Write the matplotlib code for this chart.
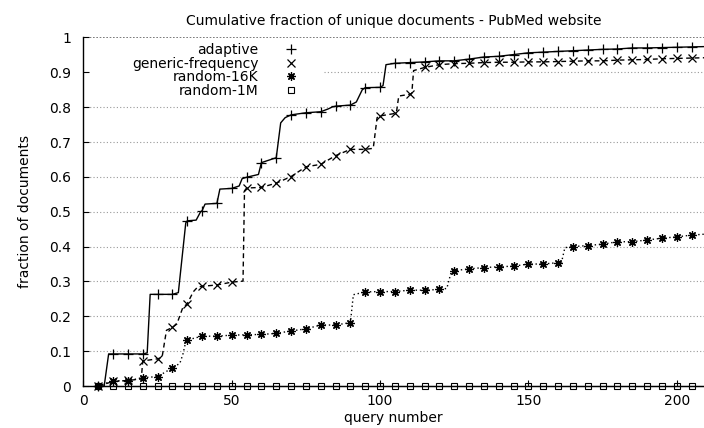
import matplotlib.pyplot as plt
from matplotlib.lines import Line2D

plt.rcParams['font.family'] = ['DejaVu Sans']
plt.rcParams['font.size'] = 10

# values: query number -> cumulative fraction
# (points every 5 queries, plus a few extra where the curve jumps)
adaptive_q = [5, 7, 8.5, 10, 15, 20, 21.5, 22.5, 25, 30, 32, 34.5, 35, 38,
              39.5, 40, 41, 45, 46, 50, 52.5, 53.5, 55, 59, 60, 65, 66.5, 68,
              70, 75, 80, 82.5, 84, 85, 90, 92, 94, 95, 100, 101, 102, 105,
              110, 115, 120, 125, 130, 135, 140, 145, 150, 155, 160, 165, 170,
              175, 180, 185, 190, 195, 200, 205, 210]
adaptive_f = [0, 0, 0.092, 0.092, 0.092, 0.092, 0.095, 0.263, 0.263, 0.263,
              0.268, 0.468, 0.474, 0.476, 0.500, 0.503, 0.522, 0.524, 0.565,
              0.567, 0.574, 0.595, 0.599, 0.607, 0.641, 0.655, 0.755, 0.770,
              0.778, 0.784, 0.787, 0.795, 0.801, 0.803, 0.806, 0.815, 0.850,
              0.856, 0.857, 0.862, 0.922, 0.926, 0.928, 0.930, 0.933, 0.933,
              0.938, 0.944, 0.946, 0.951, 0.956, 0.958, 0.960, 0.962, 0.964,
              0.966, 0.967, 0.970, 0.970, 0.971, 0.972, 0.973, 0.974]

generic_q = [5, 10, 15, 19.5, 20, 25, 26.5, 28, 30, 31.5, 33.5, 35, 37, 38.5,
             40, 45, 50, 53.8, 54.3, 55, 60, 65, 70, 75, 80, 85, 90, 95, 97.7,
             99, 100, 105, 105.6, 106.3, 110, 110.7, 111.3, 115, 120, 125, 130,
             135, 140, 145, 150, 155, 160, 165, 170, 175, 180, 185, 190, 195,
             200, 205, 210]
generic_f = [0, 0.013, 0.016, 0.02, 0.072, 0.078, 0.082, 0.160, 0.168, 0.178,
             0.225, 0.236, 0.270, 0.284, 0.286, 0.290, 0.298, 0.301, 0.560,
             0.568, 0.570, 0.582, 0.601, 0.629, 0.636, 0.661, 0.679, 0.679,
             0.682, 0.770, 0.775, 0.782, 0.790, 0.832, 0.837, 0.840, 0.905,
             0.914, 0.922, 0.925, 0.926, 0.928, 0.929, 0.929, 0.930, 0.930,
             0.931, 0.932, 0.933, 0.933, 0.935, 0.936, 0.937, 0.939, 0.940,
             0.941, 0.942]

r16k_q = [5, 10, 15, 20, 25, 30, 32.5, 33.5, 34.5, 35, 40, 45, 50, 55, 60,
          65, 70, 75, 80, 85, 90, 91, 95, 100, 105, 110, 115, 120, 122.5, 124,
          125, 130, 135, 140, 145, 150, 155, 160, 161.2, 162.3, 165, 170, 175,
          180, 185, 190, 195, 200, 205, 210]
r16k_f = [0, 0.015, 0.015, 0.024, 0.027, 0.052, 0.065, 0.090, 0.127, 0.132,
          0.143, 0.143, 0.146, 0.147, 0.148, 0.151, 0.158, 0.164, 0.175, 0.175,
          0.182, 0.262, 0.270, 0.271, 0.271, 0.275, 0.275, 0.277, 0.280, 0.328,
          0.331, 0.336, 0.340, 0.342, 0.344, 0.350, 0.350, 0.354, 0.356, 0.397,
          0.400, 0.403, 0.407, 0.414, 0.414, 0.419, 0.424, 0.428, 0.433, 0.436]

r1m_q = [5, 10, 15, 20, 25, 30, 35, 40, 45, 50, 55, 60, 65, 70, 75, 80, 85,
         90, 95, 100, 105, 110, 115, 120, 125, 130, 135, 140, 145, 150, 155,
         160, 165, 170, 175, 180, 185, 190, 195, 200, 205, 210]
r1m_f = [0, 0, 0, 0, 0, 0, 0, 0, 0, 0, 0, 0, 0, 0, 0, 0, 0, 0, 0, 0, 0, 0,
         0, 0, 0, 0, 0, 0, 0, 0, 0, 0, 0, 0, 0, 0, 0, 0, 0, 0, 0, 0]

labels = ['adaptive', 'generic-frequency', 'random-16K', 'random-1M']
yticks = [0, 0.1, 0.2, 0.3, 0.4, 0.5, 0.6, 0.7, 0.8, 0.9, 1]
ytick_labels = ['0', '0.1', '0.2', '0.3', '0.4', '0.5', '0.6', '0.7', '0.8', '0.9', '1']
xticks = [0, 50, 100, 150, 200]


def every5(q):
    # points only drawn on every 5th query
    return [i for i, v in enumerate(q) if v % 5 == 0 and v <= 205]


fig = plt.figure(figsize=(7.04, 4.28), dpi=100)
ax = fig.add_axes([0.1185, 0.0981, 0.8815, 0.8143])

# grid (the 0.9 line is cut by the key)
for y in yticks[1:-1]:
    xmin = 0.3877 if y == 0.9 else 0
    ax.axhline(y, xmin=xmin, color='#999999', lw=0.8, ls=(0, (1, 2)), zorder=0.5)
ax.axhline(1.0, color='#666666', lw=1.2, ls=(0, (1, 1)), zorder=0.5)

ax.plot(r1m_q, r1m_f, color='k', lw=0.8, marker='s', ms=4, mfc='none', mew=0.8,
        markevery=every5(r1m_q), clip_on=False)
ax.plot(r16k_q, r16k_f, color='k', lw=1.0, ls=(0, (1, 2)), marker=(8, 2, 0), ms=6,
        mew=0.9, markevery=every5(r16k_q), clip_on=False)
ax.plot(generic_q, generic_f, color='k', lw=1.0, ls=(0, (3.5, 2.5)), marker='x', ms=5.5,
        mew=0.9, markevery=every5(generic_q), clip_on=False)
ax.plot(adaptive_q, adaptive_f, color='k', lw=1.0, marker='+', ms=7, mew=0.9,
        markevery=every5(adaptive_q), clip_on=False)

ax.set_xlim(0, 209.2)
ax.set_ylim(0, 1)
ax.set_xticks(xticks)
ax.set_yticks(yticks)
ax.set_yticklabels(ytick_labels)
ax.tick_params(direction='in', length=4, width=0.8)
ax.tick_params(axis='y', pad=9)
ax.tick_params(axis='x', pad=6)
for s in ['top', 'right']:
    ax.spines[s].set_visible(False)
for s in ['left', 'bottom']:
    ax.spines[s].set_linewidth(1.0)

ax.set_xlabel('query number', labelpad=2)
ax.set_ylabel('fraction of documents', labelpad=12)
ax.set_title('Cumulative fraction of unique documents - PubMed website',
             fontsize=10, pad=9)

handles = [
    Line2D([], [], ls='none', color='k', marker='+', ms=7, mew=0.9),
    Line2D([], [], ls='none', color='k', marker='x', ms=5.5, mew=0.9),
    Line2D([], [], ls='none', color='k', marker=(8, 2, 0), ms=6, mew=0.9),
    Line2D([], [], ls='none', color='k', marker='s', ms=4, mfc='none', mew=0.8),
]
ax.legend(handles, labels, loc='upper right', bbox_to_anchor=(0.3513, 0.984),
          markerfirst=False, frameon=False, borderpad=0, handlelength=1.5,
          handletextpad=1.6, labelspacing=-0.03, borderaxespad=0)

fig.savefig('out.png', dpi=100)
